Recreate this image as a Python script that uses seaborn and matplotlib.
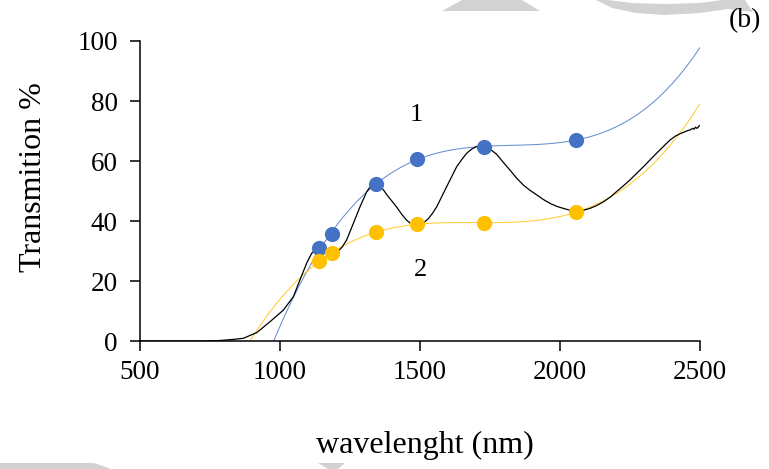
import numpy as np
import pandas as pd
import matplotlib
matplotlib.use("Agg")
import matplotlib.pyplot as plt
import seaborn as sns
from matplotlib.patches import Polygon

# ---------------- data ----------------
# measured transmission spectrum (black curve)
spec_wl = [500, 600, 700, 760, 790, 830, 869, 917, 964, 1012, 1048, 1071, 1095, 1113,
           1125, 1136, 1148, 1160, 1172, 1185, 1198, 1210, 1222, 1238, 1262, 1286,
           1310, 1325, 1336, 1346, 1358, 1370, 1381, 1400, 1417, 1435, 1452, 1466,
           1478, 1490, 1503, 1515, 1530, 1545, 1560, 1595, 1631, 1650, 1667, 1685,
           1702, 1716, 1730, 1744, 1758, 1774, 1797, 1821, 1845, 1869, 1893, 1917,
           1940, 1964, 1988, 2012, 2035, 2055, 2080, 2107, 2130, 2155, 2180, 2202,
           2226, 2250, 2274, 2298, 2322, 2345, 2370, 2393, 2412, 2429, 2445, 2458,
           2466, 2474, 2479, 2484, 2488, 2492, 2496, 2500]
spec_T = [0, 0, 0, 0.05, 0.2, 0.5, 0.9, 2.8, 6.4, 10.3, 14.8, 20.3, 25.9, 29.2,
          30.3, 30.8, 30.5, 29.6, 28.8, 28.6, 29.2, 30.2, 31.3, 33.7, 39.2, 44.8,
          49.8, 51.8, 52.5, 52.4, 51.6, 50.3, 48.8, 46.6, 44.6, 42.2, 40.3, 39.2,
          38.7, 38.6, 38.9, 39.6, 40.8, 42.6, 44.8, 51.4, 58.1, 60.6, 62.6, 64.0,
          64.8, 65.1, 65.0, 64.3, 63.4, 62.2, 59.6, 57.0, 54.3, 52.0, 50.2, 48.7,
          47.2, 45.9, 44.9, 44.2, 43.6, 43.3, 43.5, 44.2, 45.1, 46.4, 48.0, 49.8,
          51.7, 53.7, 55.9, 58.1, 60.4, 62.6, 64.9, 67.0, 68.3, 69.1, 69.7, 70.2,
          70.4, 70.9, 70.6, 71.3, 70.9, 71.1, 71.6, 71.9]

# envelope points (1 = maxima, 2 = minima)
max_wl = [1141, 1187, 1343, 1488, 1729, 2056]
max_T = [30.9, 35.8, 52.4, 60.7, 64.7, 67.0]
min_wl = [1141, 1187, 1343, 1488, 1729, 2056]
min_T = [26.7, 29.5, 36.2, 39.0, 39.4, 42.9]

x_ticks = [500, 1000, 1500, 2000, 2500]
y_ticks = [0, 20, 40, 60, 80, 100]

spec = pd.DataFrame({"wl": spec_wl, "T": spec_T})
env_max = pd.DataFrame({"wl": max_wl, "T": max_T})
env_min = pd.DataFrame({"wl": min_wl, "T": min_T})

# ---------------- style ----------------
sns.set_style("ticks")
plt.rcParams["font.family"] = ["Liberation Serif", "DejaVu Serif"]
plt.rcParams["text.color"] = "black"
plt.rcParams["axes.labelcolor"] = "black"
plt.rcParams["xtick.color"] = "black"
plt.rcParams["ytick.color"] = "black"

W, H = 769, 469
fig = plt.figure(figsize=(W / 100, H / 100), dpi=100)
ax = fig.add_axes([140 / W, 1 - 341 / H, 560 / W, 300 / H])

BLUE = "#4472C4"
ORANGE = "#FFC000"

ax.set_xlim(500, 2500)
ax.set_ylim(0, 100)

# polynomial trendlines (extended over the full x-range)
sns.regplot(data=env_max, x="wl", y="T", order=3, ci=None, truncate=False,
            scatter=False, ax=ax,
            line_kws=dict(color=BLUE, lw=0.75, alpha=0.8, zorder=1))
sns.regplot(data=env_min, x="wl", y="T", order=3, ci=None, truncate=False,
            scatter=False, ax=ax,
            line_kws=dict(color=ORANGE, lw=0.75, alpha=0.8, zorder=1))

# measured spectrum
sns.lineplot(data=spec, x="wl", y="T", color="black", lw=0.9, ax=ax,
             sort=False, zorder=2)

# envelope points
sns.scatterplot(data=env_max, x="wl", y="T", color=BLUE, s=120, linewidth=0,
                ax=ax, zorder=3)
sns.scatterplot(data=env_min, x="wl", y="T", color=ORANGE, s=120, linewidth=0,
                ax=ax, zorder=3)

ax.set_xlim(500, 2500)
ax.set_ylim(0, 100)
ax.set_xticks(x_ticks)
ax.set_yticks(y_ticks)
ax.tick_params(axis="both", labelsize=19.5, length=7, width=1.1, color="black",
               labelcolor="black", direction="out")
ax.tick_params(axis="x", pad=7)
ax.tick_params(axis="y", pad=9)
sns.despine(ax=ax)
for s in ("left", "bottom"):
    ax.spines[s].set_linewidth(1.1)
    ax.spines[s].set_color("black")

ax.set_xlabel("wavelenght (nm)", fontsize=23, color="black")
ax.set_ylabel("Transmition %", fontsize=23, color="black")
ax.xaxis.set_label_coords((425 - 140) / 560, -0.30)
ax.yaxis.set_label_coords(-0.165, 0.545)

ax.text(1486, 75.3, "1", fontsize=19, ha="center", va="center", color="black")
ax.text(1500, 23.7, "2", fontsize=19, ha="center", va="center", color="black")
fig.text(745 / W, 1 - 21 / H, "(b)", fontsize=20, ha="center", va="center",
         color="black")

# light grey watermark fragments at the page edges
def px_poly(pts):
    return Polygon([(x / W, 1 - y / H) for x, y in pts], closed=True,
                   transform=fig.transFigure, facecolor="#D2D2D2",
                   edgecolor="none", zorder=0)

wm = [
    [(442, 11), (540, 11), (522, 0), (462, 0)],
    [(596, 0), (612, 8), (636, 13), (665, 15), (700, 13), (728, 9), (753, 12),
     (745, 0), (722, 0), (700, 3), (665, 4), (632, 3), (608, 0)],
    [(0, 463), (94, 463), (111, 469), (0, 469)],
    [(318, 463), (345, 463), (338, 469), (328, 469)],
]
for p in wm:
    fig.patches.append(px_poly(p))

fig.savefig("out.png", dpi=100)
